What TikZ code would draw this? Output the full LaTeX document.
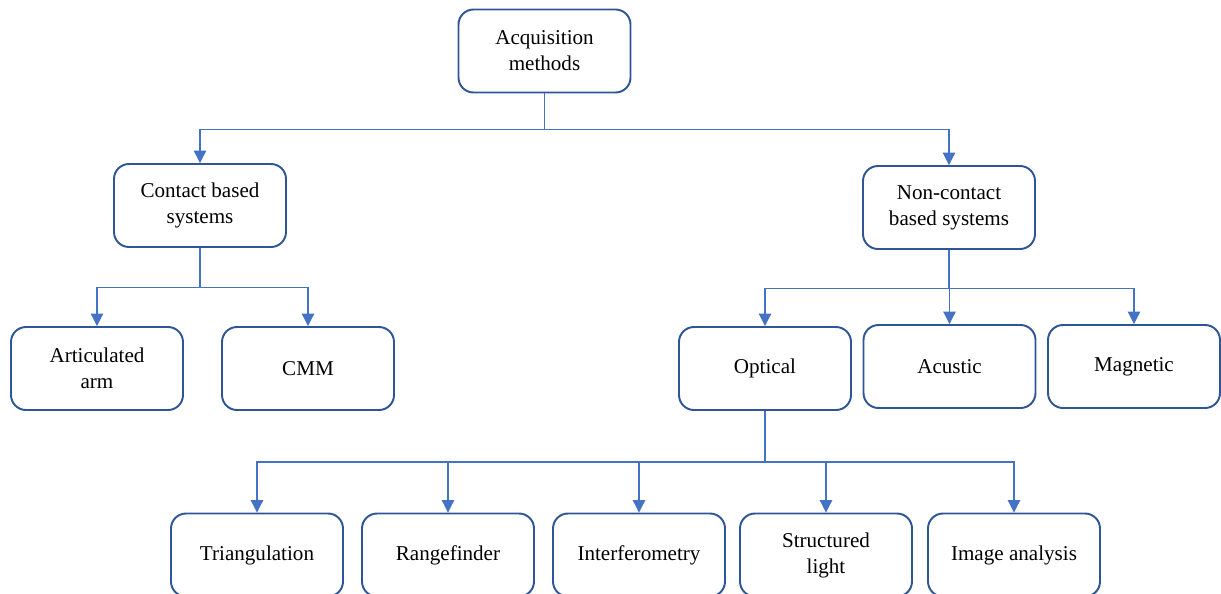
\documentclass[tikz,border=0pt]{standalone}
\usepackage{fontspec}
\setmainfont{Liberation Serif}
\usepackage{tikz}
\usetikzlibrary{positioning,arrows.meta}
\definecolor{boxblue}{HTML}{2F5597}
\definecolor{linkblue}{HTML}{4472C4}

\begin{document}
\begin{tikzpicture}[box/.style={draw=boxblue,line width=1.1pt,rounded corners=0.3cm,minimum width=3.44cm,minimum height=1.66cm,align=center,fill=white,font=\fontsize{12}{14.8}\selectfont},
  link/.style={draw=linkblue,line width=0.6pt,-{Triangle[width=7pt,length=7pt]}}]
    \useasboundingbox (0,0) rectangle (24.42,-11.86);

    \node[box] (acq) at (10.89,-1.02) {Acquisition\\methods};

    \node[box] (contact) at (4.0,-4.11) {Contact based\\systems};
    \node[box] (noncontact) at (18.98,-4.15) {Non-contact\\based systems};

    \node[box] (arm) at (1.94,-7.37) {Articulated\\arm};
    \node[box] (cmm) at (6.16,-7.37) {CMM};

    \node[box] (optical) at (15.30,-7.37) {Optical};
    \node[box] (acustic) at (18.99,-7.33) {Acustic};
    \node[box] (magnetic) at (22.68,-7.33) {Magnetic};

    \node[box] (tri) at (5.14,-11.10) {Triangulation};
    \node[box] (range) at (8.96,-11.10) {Rangefinder};
    \node[box] (interf) at (12.78,-11.10) {Interferometry};
    \node[box] (struct) at (16.52,-11.10) {Structured\\light};
    \node[box] (image) at (20.28,-11.10) {Image analysis};

    \draw[link] (acq.south) -- ++(0,-0.73) -| (contact);
    \draw[link] (acq.south) -- ++(0,-0.73) -| (noncontact);

    \draw[link] (contact.south) -- ++(0,-0.80) -| (arm);
    \draw[link] (contact.south) -- ++(0,-0.80) -| (cmm);

    \draw[link] (noncontact.south) -- ++(0,-0.78) -| (optical);
    \draw[link] (noncontact.south) -- ++(0,-0.78) -| (acustic);
    \draw[link] (noncontact.south) -- ++(0,-0.78) -| (magnetic);

    \draw[link] (optical.south) -- ++(0,-1.02) -| (tri);
    \draw[link] (optical.south) -- ++(0,-1.02) -| (range);
    \draw[link] (optical.south) -- ++(0,-1.02) -| (interf);
    \draw[link] (optical.south) -- ++(0,-1.02) -| (struct);
    \draw[link] (optical.south) -- ++(0,-1.02) -| (image);
  \end{tikzpicture}
\end{document}
